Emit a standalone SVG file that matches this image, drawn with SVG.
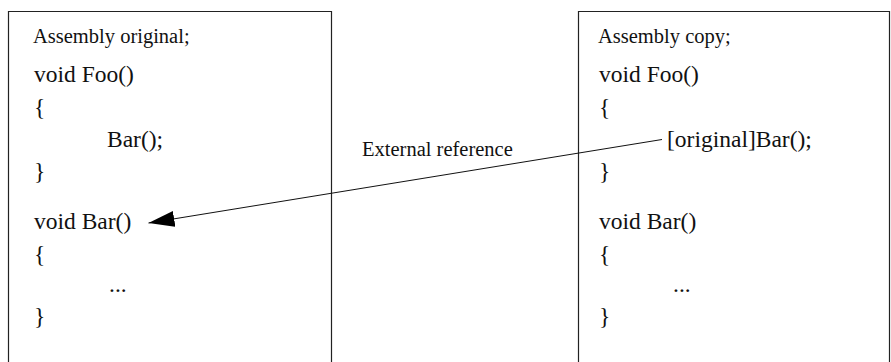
<svg xmlns="http://www.w3.org/2000/svg" width="891" height="362" viewBox="0 0 891 362">
  <style>
    .frame { fill: none; stroke: #222; stroke-width: 1.2; }
    .label { font-family: "Liberation Serif", "Times New Roman", serif; font-size: 20.5px; fill: #111; }
    .code { font-family: "Liberation Serif", "Times New Roman", serif; font-size: 23.5px; fill: #111; }
    .link { fill: none; stroke: #111; stroke-width: 1; }
  </style>
  <defs>
    <marker id="arrowHead" markerUnits="userSpaceOnUse" markerWidth="28" markerHeight="18" refX="26" refY="8" orient="auto">
      <path d="M0,0 L26,8 L0,16 Z" fill="#000"/>
    </marker>
  </defs>
  <rect width="891" height="362" fill="#fff"/>

  <!-- Left assembly: the original -->
  <g id="assembly-original">
    <path class="frame" d="M8.5,362 V11.5 H331.5 V362"/>
    <text class="label" x="33" y="43">Assembly original;</text>
    <text class="code" x="34" y="82">void Foo()</text>
    <text class="code" x="34" y="115">{</text>
    <text class="code" x="107" y="147">Bar();</text>
    <text class="code" x="34" y="179">}</text>
    <text class="code" x="34" y="229">void Bar()</text>
    <text class="code" x="34" y="262">{</text>
    <text class="code" x="109" y="292">...</text>
    <text class="code" x="34" y="324">}</text>
  </g>

  <!-- Right assembly: the copy -->
  <g id="assembly-copy">
    <path class="frame" d="M578.5,362 V11.5 H889.5 V362"/>
    <text class="label" x="598" y="43">Assembly copy;</text>
    <text class="code" x="599" y="82">void Foo()</text>
    <text class="code" x="599" y="115">{</text>
    <text class="code" x="667" y="147">[original]Bar();</text>
    <text class="code" x="599" y="179">}</text>
    <text class="code" x="599" y="229">void Bar()</text>
    <text class="code" x="599" y="262">{</text>
    <text class="code" x="673" y="292">...</text>
    <text class="code" x="599" y="324">}</text>
  </g>

  <!-- Cross-assembly reference -->
  <g id="connectors">
    <line class="link" x1="662" y1="139.5" x2="148.5" y2="223" marker-end="url(#arrowHead)"/>
    <text class="label" x="362" y="156">External reference</text>
  </g>
</svg>
